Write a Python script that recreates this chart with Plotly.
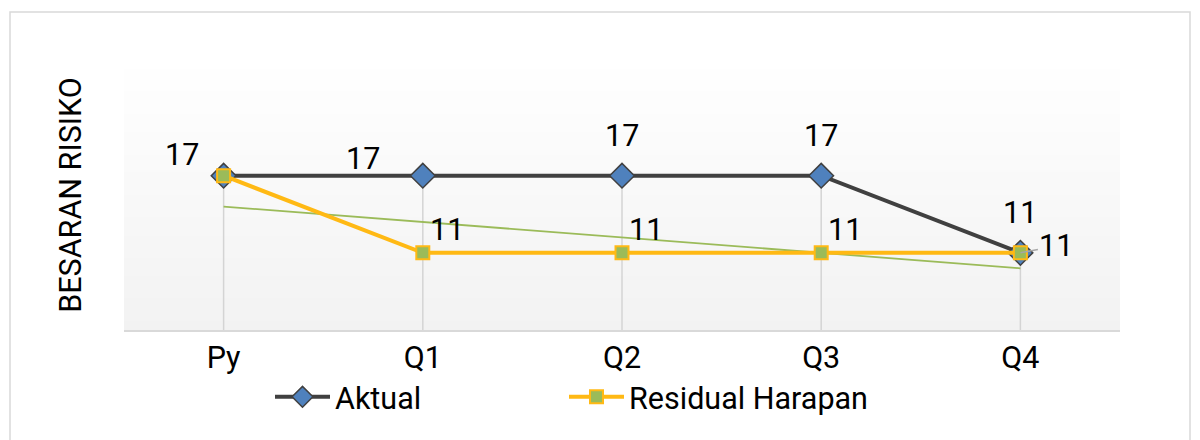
import numpy as np
import plotly.graph_objects as go

# ---- data ----
categories = ["Py", "Q1", "Q2", "Q3", "Q4"]
aktual = [17, 17, 17, 17, 11]
residual = [17, 11, 11, 11, 11]
name_aktual = "Aktual"
name_residual = "Residual Harapan"
y_title = "BESARAN RISIKO"

# ---- styles ----
FONT = "Roboto"
FS = 30.5
Y_MIN, Y_MAX = 5, 26
W, H = 1200, 440
OFF = 8  # page body margin
L, R, T, B = 124 - OFF, 88, 60 - OFF, 118

# label offsets (px) per point: (dx, dy, leader) ; None = hidden
off_aktual = [(-42, 21, False), (-60, 17, False), (0, 40, False), (0, 40, False), (0, 40, False)]
off_resid = [None, (24, 23, False), (24, 23, False), (24, 23, False), (36, 7, True)]

xi = np.arange(len(categories))
coef = np.polyfit(xi, residual, 1)
trend = np.polyval(coef, xi)

fig = go.Figure()

# drop lines
dx, dy = [], []
for i, (a, r) in enumerate(zip(aktual, residual)):
    dx += [i, i, None]
    dy += [Y_MIN, max(a, r), None]
fig.add_trace(go.Scatter(x=dx, y=dy, mode="lines",
                         line=dict(color="#d4d4d4", width=1.5),
                         hoverinfo="skip", showlegend=False))

# trendline
fig.add_trace(go.Scatter(x=xi, y=trend, mode="lines",
                         line=dict(color="#9bbb59", width=1.8),
                         hoverinfo="skip", showlegend=False))

fig.add_trace(go.Scatter(
    x=xi, y=aktual, name=name_aktual, mode="lines+markers",
    line=dict(color="#404040", width=4), legend="legend",
    marker=dict(symbol="diamond", size=19, color="#4f81bd",
                line=dict(color="#404040", width=1.5))))

fig.add_trace(go.Scatter(
    x=xi, y=residual, name=name_residual, mode="lines+markers",
    line=dict(color="#ffb914", width=4), legend="legend2",
    marker=dict(symbol="square", size=13, color="#9bbb59",
                line=dict(color="#ffb914", width=2))))

anns = []
for vals, offs in ((aktual, off_aktual), (residual, off_resid)):
    for i, (v, o) in enumerate(zip(vals, offs)):
        if o is None:
            continue
        if o[2]:
            anns.append(dict(x=i, y=v, text=str(v), showarrow=True,
                             ax=o[0], ay=-o[1], arrowhead=0, arrowwidth=1.5,
                             arrowcolor="#a6a6a6", standoff=0,
                             font=dict(family=FONT, size=FS, color="#000000")))
        else:
            anns.append(dict(x=i, y=v, text=str(v), showarrow=False,
                             xshift=o[0], yshift=o[1],
                             font=dict(family=FONT, size=FS, color="#000000")))

# coordinate helper: screen pixel -> paper
pw, ph = W - L - R, H - T - B
def px_to_paper(px, py):
    return (px - OFF - L) / pw, (H - B - (py - OFF)) / ph

shapes = []
# plot-area vertical gradient (bottom #f2f2f2 -> top #ffffff)
N = 60
c0, c1 = np.array([242, 242, 242]), np.array([255, 255, 255])
for k in range(N):
    c = c0 + (c1 - c0) * (k + 0.5) / N
    shapes.append(dict(type="rect", xref="paper", yref="paper",
                       x0=0, x1=1, y0=k / N, y1=(k + 1) / N + 0.002,
                       fillcolor="rgb(%d,%d,%d)" % tuple(np.round(c)),
                       line=dict(width=0), layer="below"))
# outer chart border
bx0, by0 = px_to_paper(10, 470)
bx1, by1 = px_to_paper(1190, 12)
shapes.append(dict(type="rect", xref="paper", yref="paper",
                   x0=bx0, y0=by0, x1=bx1, y1=by1,
                   line=dict(color="#d9d9d9", width=1.5), layer="below"))
leg1_x, leg_y = px_to_paper(270, 397)
leg2_x, _ = px_to_paper(564, 397)

legend_common = dict(orientation="h", xanchor="left", y=leg_y, yanchor="middle",
                     itemwidth=55, font=dict(family=FONT, size=FS, color="#000000"),
                     bgcolor="rgba(0,0,0,0)")

fig.update_layout(
    width=W, height=H,
    margin=dict(l=L, r=R, t=T, b=B),
    paper_bgcolor="#ffffff", plot_bgcolor="rgba(0,0,0,0)",
    font=dict(family=FONT, size=FS, color="#000000"),
    annotations=anns,
    shapes=shapes,
    showlegend=True,
    legend=dict(x=leg1_x, **legend_common),
    legend2=dict(x=leg2_x, **legend_common),
    hovermode=False,
)
fig.update_xaxes(range=[-0.5, len(categories) - 0.5],
                 tickvals=list(xi), ticktext=categories,
                 showgrid=False, zeroline=False,
                 showline=True, linecolor="#d9d9d9", linewidth=1.5,
                 ticks="",
                 tickfont=dict(family=FONT, size=FS, color="#000000"))
fig.update_yaxes(range=[Y_MIN, Y_MAX], showgrid=False, zeroline=False,
                 showticklabels=False, showline=False, ticks="",
                 title=dict(text=y_title, standoff=32,
                            font=dict(family=FONT, size=FS, color="#000000")))

fig.write_html("out.html")
